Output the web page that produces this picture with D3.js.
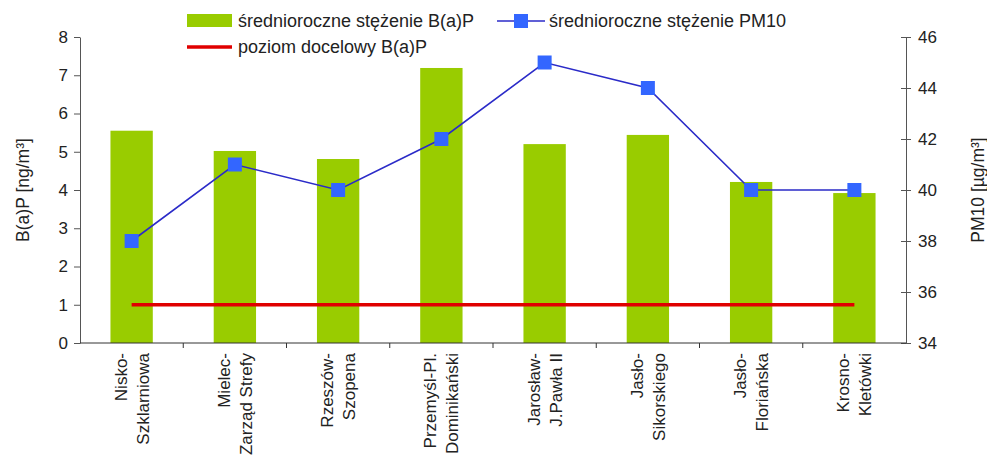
<!DOCTYPE html>
<html>
<head>
<meta charset="utf-8">
<script src="https://cdn.jsdelivr.net/npm/d3@7"></script>
<style>
  body { margin: 0; background: #fff; }
  svg text { font-family: "Liberation Sans", Arial, sans-serif; fill: #222; }
</style>
</head>
<body>
<svg id="chart" width="987" height="461"></svg>
<script>
// data
var stations = [
  ["Nisko-", "Szklarniowa"],
  ["Mielec-", "Zarząd Strefy"],
  ["Rzeszów-", "Szopena"],
  ["Przemyśl-Pl.", "Dominikański"],
  ["Jarosław-", "J.Pawła II"],
  ["Jasło-", "Sikorskiego"],
  ["Jasło-", "Floriańska"],
  ["Krosno-", "Kletówki"]
];
var bapValues = [5.55, 5.02, 4.81, 7.19, 5.2, 5.44, 4.21, 3.92];
var pm10Values = [38, 41, 40, 42, 45, 44, 40, 40];
var bapTarget = 1;
var leftTicks = [0, 1, 2, 3, 4, 5, 6, 7, 8];
var rightTicks = [34, 36, 38, 40, 42, 44, 46];

var svg = d3.select("#chart");

var plotLeft = 80, plotRight = 906, plotTop = 37, plotBottom = 343;

var x = d3.scaleBand()
    .domain(d3.range(stations.length))
    .range([plotLeft, plotRight])
    .paddingInner(0.59)
    .paddingOuter(0.295);

var y = d3.scaleLinear().domain([0, 8]).range([plotBottom, plotTop]);
var y2 = d3.scaleLinear().domain([34, 46]).range([plotBottom, plotTop]);

var cx = function(i) { return x(i) + x.bandwidth() / 2; };

// bars
svg.append("g")
  .selectAll("rect")
  .data(bapValues)
  .enter().append("rect")
    .attr("x", function(d, i) { return x(i); })
    .attr("y", function(d) { return y(d); })
    .attr("width", x.bandwidth())
    .attr("height", function(d) { return y(0) - y(d); })
    .attr("fill", "#99cc00");

// target level line
svg.append("line")
    .attr("x1", cx(0))
    .attr("x2", cx(stations.length - 1))
    .attr("y1", y(bapTarget))
    .attr("y2", y(bapTarget))
    .attr("stroke", "#e00000")
    .attr("stroke-width", 3.5);

// PM10 line
var line = d3.line()
    .x(function(d, i) { return cx(i); })
    .y(function(d) { return y2(d); });

svg.append("path")
    .datum(pm10Values)
    .attr("d", line)
    .attr("fill", "none")
    .attr("stroke", "#2b2bc8")
    .attr("stroke-width", 1.6);

svg.append("g")
  .selectAll("rect")
  .data(pm10Values)
  .enter().append("rect")
    .attr("x", function(d, i) { return cx(i) - 7; })
    .attr("y", function(d) { return y2(d) - 7; })
    .attr("width", 14)
    .attr("height", 14)
    .attr("fill", "#3366ff");

// left axis
var gl = svg.append("g")
    .attr("transform", "translate(" + plotLeft + ",0)")
    .call(d3.axisLeft(y).tickValues(leftTicks).tickSize(6).tickPadding(6).tickSizeOuter(0));
gl.selectAll("text").attr("font-size", 17).style("font-family", "Liberation Sans, Arial");
gl.selectAll("line, path").attr("stroke", "#555");

// right axis
var gr = svg.append("g")
    .attr("transform", "translate(" + plotRight + ",0)")
    .call(d3.axisRight(y2).tickValues(rightTicks).tickSize(5).tickPadding(7).tickSizeOuter(0));
gr.selectAll(".tick line").attr("x1", -5);
gr.selectAll("text").attr("font-size", 17).style("font-family", "Liberation Sans, Arial");
gr.selectAll("line, path").attr("stroke", "#555");

// bottom axis with ticks between categories
var gb = svg.append("g");
gb.append("line")
    .attr("x1", plotLeft).attr("x2", plotRight)
    .attr("y1", plotBottom).attr("y2", plotBottom)
    .attr("stroke", "#333");
gb.selectAll(".sep")
  .data(d3.range(1, stations.length))
  .enter().append("line")
    .attr("class", "sep")
    .attr("x1", function(i) { return x(i) - x.step() * x.paddingInner() / 2; })
    .attr("x2", function(i) { return x(i) - x.step() * x.paddingInner() / 2; })
    .attr("y1", plotBottom)
    .attr("y2", plotBottom + 5)
    .attr("stroke", "#333");

// category labels
var cat = gb.selectAll(".cat")
  .data(stations)
  .enter().append("text")
    .attr("class", "cat")
    .attr("transform", function(d, i) { return "translate(" + cx(i) + "," + (plotBottom + 10) + ") rotate(-90)"; })
    .attr("text-anchor", "end")
    .attr("font-size", 17);
cat.append("tspan").attr("x", 0).attr("y", -5).text(function(d) { return d[0]; });
cat.append("tspan").attr("x", 0).attr("y", 17).text(function(d) { return d[1]; });

// axis titles
svg.append("text")
    .attr("transform", "translate(29,190) rotate(-90)")
    .attr("text-anchor", "middle")
    .attr("font-size", 17.5)
    .text("B(a)P [ng/m³]");

svg.append("text")
    .attr("transform", "translate(984,190) rotate(-90)")
    .attr("text-anchor", "middle")
    .attr("font-size", 17.5)
    .text("PM10 [µg/m³]");

// legend
var lg = svg.append("g");
lg.append("rect").attr("x", 187).attr("y", 14).attr("width", 45).attr("height", 13).attr("fill", "#99cc00");
lg.append("text").attr("x", 238).attr("y", 27).attr("font-size", 18).text("średnioroczne stężenie B(a)P");
lg.append("line").attr("x1", 187).attr("x2", 232).attr("y1", 47).attr("y2", 47)
    .attr("stroke", "#e00000").attr("stroke-width", 3.5);
lg.append("text").attr("x", 238).attr("y", 53).attr("font-size", 18).text("poziom docelowy B(a)P");
lg.append("line").attr("x1", 497).attr("x2", 545).attr("y1", 21).attr("y2", 21)
    .attr("stroke", "#2b2bc8").attr("stroke-width", 1.6);
lg.append("rect").attr("x", 514).attr("y", 14).attr("width", 14).attr("height", 14).attr("fill", "#3366ff");
lg.append("text").attr("x", 549).attr("y", 27).attr("font-size", 18).text("średnioroczne stężenie PM10");
</script>
</body>
</html>
